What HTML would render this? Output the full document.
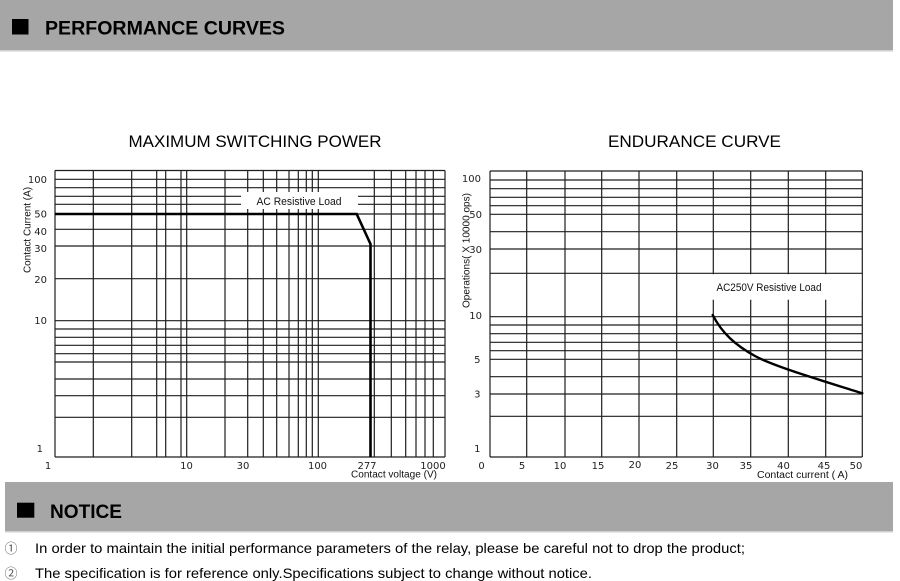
<!DOCTYPE html>
<html>
<head>
<meta charset="utf-8">
<style>
  html,body{margin:0;padding:0;background:#fff;}
  svg{display:block;}
</style>
</head>
<body>
<svg width="900" height="581" viewBox="0 0 900 581" xmlns="http://www.w3.org/2000/svg">
  <rect x="0" y="0" width="900" height="581" fill="#fff"/>

  <!-- Header bar -->
  <rect x="0" y="0" width="893" height="50" fill="#a6a6a6"/>
  <rect x="0" y="50" width="893" height="1.5" fill="#cfcfcf"/>
  <rect x="12" y="19" width="16.5" height="15.5" fill="#000"/>
  <text x="45" y="34.5" font-family="Liberation Sans, Arial, sans-serif" font-weight="bold" font-size="19.5" fill="#000" textLength="240" lengthAdjust="spacingAndGlyphs">PERFORMANCE CURVES</text>

  <!-- Chart titles -->
  <text x="128.5" y="147" font-family="Liberation Sans, Arial, sans-serif" font-size="17" fill="#000" textLength="253" lengthAdjust="spacingAndGlyphs">MAXIMUM SWITCHING POWER</text>
  <text x="608" y="147" font-family="Liberation Sans, Arial, sans-serif" font-size="17" fill="#000" textLength="173" lengthAdjust="spacingAndGlyphs">ENDURANCE CURVE</text>

  <!-- LEFT CHART GRID -->
  <g stroke="#1e1e1e" stroke-width="1.2" fill="none">
    <line x1="55" x2="445" y1="170.5" y2="170.5"/>
    <line x1="55" x2="445" y1="179.3" y2="179.3"/>
    <line x1="55" x2="445" y1="187.7" y2="187.7"/>
    <line x1="55" x2="445" y1="196.3" y2="196.3"/>
    <line x1="55" x2="445" y1="204.3" y2="204.3"/>
    <line x1="55" x2="445" y1="214" y2="214"/>
    <line x1="55" x2="445" y1="229.3" y2="229.3"/>
    <line x1="55" x2="445" y1="246" y2="246"/>
    <line x1="55" x2="445" y1="278.7" y2="278.7"/>
    <line x1="55" x2="445" y1="320.7" y2="320.7"/>
    <line x1="55" x2="445" y1="329" y2="329"/>
    <line x1="55" x2="445" y1="337.3" y2="337.3"/>
    <line x1="55" x2="445" y1="345.3" y2="345.3"/>
    <line x1="55" x2="445" y1="353.7" y2="353.7"/>
    <line x1="55" x2="445" y1="362" y2="362"/>
    <line x1="55" x2="445" y1="379" y2="379"/>
    <line x1="55" x2="445" y1="395.7" y2="395.7"/>
    <line x1="55" x2="445" y1="417.3" y2="417.3"/>
    <line x1="55" x2="445" y1="457" y2="457"/>
    <line x1="55" x2="55" y1="170.5" y2="457"/>
    <line x1="93.3" x2="93.3" y1="170.5" y2="457"/>
    <line x1="131.7" x2="131.7" y1="170.5" y2="457"/>
    <line x1="156.7" x2="156.7" y1="170.5" y2="457"/>
    <line x1="165.7" x2="165.7" y1="170.5" y2="457"/>
    <line x1="181" x2="181" y1="170.5" y2="457"/>
    <line x1="186.7" x2="186.7" y1="170.5" y2="457"/>
    <line x1="225" x2="225" y1="170.5" y2="457"/>
    <line x1="247.7" x2="247.7" y1="170.5" y2="457"/>
    <line x1="263.3" x2="263.3" y1="170.5" y2="457"/>
    <line x1="276.7" x2="276.7" y1="170.5" y2="457"/>
    <line x1="289" x2="289" y1="170.5" y2="457"/>
    <line x1="298.3" x2="298.3" y1="170.5" y2="457"/>
    <line x1="306.3" x2="306.3" y1="170.5" y2="457"/>
    <line x1="312.3" x2="312.3" y1="170.5" y2="457"/>
    <line x1="318.3" x2="318.3" y1="170.5" y2="457"/>
    <line x1="374.3" x2="374.3" y1="170.5" y2="457"/>
    <line x1="391.3" x2="391.3" y1="170.5" y2="457"/>
    <line x1="405.7" x2="405.7" y1="170.5" y2="457"/>
    <line x1="416" x2="416" y1="170.5" y2="457"/>
    <line x1="425" x2="425" y1="170.5" y2="457"/>
    <line x1="433.3" x2="433.3" y1="170.5" y2="457"/>
    <line x1="445" x2="445" y1="170.5" y2="457"/>
  </g>
  <rect x="241" y="192" width="117" height="17" fill="#fff"/>
  <text x="256.5" y="205" font-family="Liberation Sans, Arial, sans-serif" font-size="11" fill="#111" textLength="85" lengthAdjust="spacingAndGlyphs">AC Resistive Load</text>
  <path d="M55,214 H356.7 L370.5,244 V457" fill="none" stroke="#000" stroke-width="2.6" stroke-linejoin="miter"/>

  <g font-family="DejaVu Sans, Verdana, sans-serif" font-size="10" fill="#222" text-anchor="end">
    <text x="47" y="183">100</text>
    <text x="47" y="217.5">50</text>
    <text x="47" y="235">40</text>
    <text x="47" y="252">30</text>
    <text x="47" y="283">20</text>
    <text x="47" y="324">10</text>
    <text x="43" y="452">1</text>
  </g>
  <g font-family="DejaVu Sans, Verdana, sans-serif" font-size="10" fill="#222" text-anchor="middle">
    <text x="48" y="469">1</text>
    <text x="186.5" y="469">10</text>
    <text x="243" y="469">30</text>
    <text x="317.5" y="469">100</text>
    <text x="367" y="469">277</text>
    <text x="433" y="469">1000</text>
  </g>
  <text x="351" y="477.5" font-family="Liberation Sans, Arial, sans-serif" font-size="10" fill="#111" textLength="86" lengthAdjust="spacingAndGlyphs">Contact voltage (V)</text>
  <text transform="translate(30.5,273) rotate(-90)" x="0" y="0" font-family="Liberation Sans, Arial, sans-serif" font-size="10" fill="#111" textLength="86" lengthAdjust="spacingAndGlyphs">Contact Current (A)</text>

  <!-- RIGHT CHART GRID -->
  <g stroke="#1e1e1e" stroke-width="1.2" fill="none">
    <line x1="490" x2="862.3" y1="171" y2="171"/>
    <line x1="490" x2="862.3" y1="180" y2="180"/>
    <line x1="490" x2="862.3" y1="188.7" y2="188.7"/>
    <line x1="490" x2="862.3" y1="197.3" y2="197.3"/>
    <line x1="490" x2="862.3" y1="205.7" y2="205.7"/>
    <line x1="490" x2="862.3" y1="214.3" y2="214.3"/>
    <line x1="490" x2="862.3" y1="231.7" y2="231.7"/>
    <line x1="490" x2="862.3" y1="249" y2="249"/>
    <line x1="490" x2="862.3" y1="273.3" y2="273.3"/>
    <line x1="490" x2="862.3" y1="316.7" y2="316.7"/>
    <line x1="490" x2="862.3" y1="325" y2="325"/>
    <line x1="490" x2="862.3" y1="333.7" y2="333.7"/>
    <line x1="490" x2="862.3" y1="342.3" y2="342.3"/>
    <line x1="490" x2="862.3" y1="350.7" y2="350.7"/>
    <line x1="490" x2="862.3" y1="359.3" y2="359.3"/>
    <line x1="490" x2="862.3" y1="376.7" y2="376.7"/>
    <line x1="490" x2="862.3" y1="394" y2="394"/>
    <line x1="490" x2="862.3" y1="416.3" y2="416.3"/>
    <line x1="490" x2="862.3" y1="457" y2="457"/>
    <line x1="490" x2="490" y1="171" y2="457"/>
    <line x1="526.7" x2="526.7" y1="171" y2="457"/>
    <line x1="565" x2="565" y1="171" y2="457"/>
    <line x1="601.7" x2="601.7" y1="171" y2="457"/>
    <line x1="639" x2="639" y1="171" y2="457"/>
    <line x1="676.7" x2="676.7" y1="171" y2="457"/>
    <line x1="713.3" x2="713.3" y1="171" y2="457"/>
    <line x1="750.7" x2="750.7" y1="171" y2="457"/>
    <line x1="788.3" x2="788.3" y1="171" y2="457"/>
    <line x1="825.7" x2="825.7" y1="171" y2="457"/>
    <line x1="862.3" x2="862.3" y1="171" y2="457"/>
  </g>
  <rect x="678" y="274.2" width="183.6" height="25.5" fill="#fff"/>
  <text x="716.5" y="291" font-family="Liberation Sans, Arial, sans-serif" font-size="11" fill="#111" textLength="105" lengthAdjust="spacingAndGlyphs">AC250V Resistive Load</text>
  <path d="M712.7,315 C722,333 735,345 755,356 S830,383 862.3,393.3" fill="none" stroke="#000" stroke-width="2.4" stroke-linecap="round"/>

  <g font-family="DejaVu Sans, Verdana, sans-serif" font-size="10" fill="#222" text-anchor="end">
    <text x="481" y="182">100</text>
    <text x="482" y="218">50</text>
    <text x="482" y="253">30</text>
    <text x="482" y="319">10</text>
    <text x="480.5" y="363">5</text>
    <text x="480.5" y="397.5">3</text>
    <text x="480.5" y="452">1</text>
  </g>
  <g font-family="DejaVu Sans, Verdana, sans-serif" font-size="10" fill="#222" text-anchor="middle">
    <text x="481.5" y="469">0</text>
    <text x="522" y="469">5</text>
    <text x="560" y="469">10</text>
    <text x="598" y="469">15</text>
    <text x="635" y="468">20</text>
    <text x="672" y="469">25</text>
    <text x="712.5" y="469">30</text>
    <text x="746" y="469">35</text>
    <text x="783.5" y="469">40</text>
    <text x="824" y="469">45</text>
    <text x="856" y="469">50</text>
  </g>
  <text x="757" y="478" font-family="Liberation Sans, Arial, sans-serif" font-size="10" fill="#111" textLength="91" lengthAdjust="spacingAndGlyphs">Contact current ( A)</text>
  <text transform="translate(469.5,308) rotate(-90)" x="0" y="0" font-family="Liberation Sans, Arial, sans-serif" font-size="10" fill="#111" textLength="115" lengthAdjust="spacingAndGlyphs">Operations( X 10000 ops)</text>

  <!-- Notice bar -->
  <rect x="5" y="482" width="888" height="49.5" fill="#a6a6a6"/>
  <rect x="5" y="531" width="888" height="1.5" fill="#cfcfcf"/>
  <rect x="17" y="502.7" width="17.3" height="15" fill="#000"/>
  <text x="50" y="518" font-family="Liberation Sans, Arial, sans-serif" font-weight="bold" font-size="19.5" fill="#000" textLength="72" lengthAdjust="spacingAndGlyphs">NOTICE</text>

  <text x="11" y="553" text-anchor="middle" font-family="Noto Sans CJK SC, DejaVu Sans, sans-serif" font-size="13" fill="#555">①</text>
  <text x="35" y="553" font-family="Liberation Sans, Arial, sans-serif" font-size="13.6" fill="#000" textLength="710" lengthAdjust="spacingAndGlyphs">In order to maintain the initial performance parameters of the relay, please be careful not to drop the product;</text>
  <text x="11" y="578" text-anchor="middle" font-family="Noto Sans CJK SC, DejaVu Sans, sans-serif" font-size="13" fill="#555">②</text>
  <text x="35" y="578" font-family="Liberation Sans, Arial, sans-serif" font-size="13.6" fill="#000" textLength="557" lengthAdjust="spacingAndGlyphs">The specification is for reference only.Specifications subject to change without notice.</text>
</svg>
</body>
</html>
